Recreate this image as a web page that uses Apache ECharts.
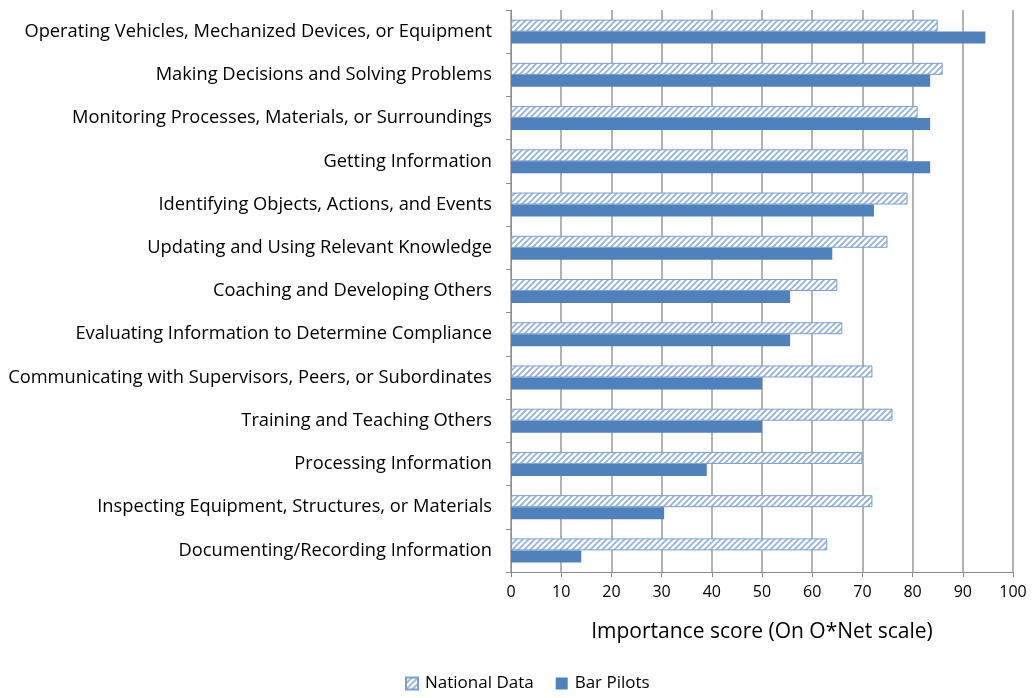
<!DOCTYPE html>
<html>
<head>
<meta charset="utf-8">
<script src="https://cdn.jsdelivr.net/npm/echarts@6/dist/echarts.min.js"></script>
<style>
  html, body { margin: 0; padding: 0; background: #fff; }
  #chart { width: 1032px; height: 698px; }
</style>
</head>
<body>
<div id="chart"></div>
<script>
const activities = [
  'Operating Vehicles, Mechanized Devices, or Equipment',
  'Making Decisions and Solving Problems',
  'Monitoring Processes, Materials, or Surroundings',
  'Getting Information',
  'Identifying Objects, Actions, and Events',
  'Updating and Using Relevant Knowledge',
  'Coaching and Developing Others',
  'Evaluating Information to Determine Compliance',
  'Communicating with Supervisors, Peers, or Subordinates',
  'Training and Teaching Others',
  'Processing Information',
  'Inspecting Equipment, Structures, or Materials',
  'Documenting/Recording Information'
];
const nationalData = [85, 86, 81, 79, 79, 75, 65, 66, 72, 76, 70, 72, 63];
const barPilots = [94.5, 83.5, 83.5, 83.5, 72.3, 64, 55.6, 55.6, 50, 50, 39, 30.5, 14];
const xTicks = [0, 10, 20, 30, 40, 50, 60, 70, 80, 90, 100];

// hatch pattern: light blue "/" stripes on white
function hatch() {
  const c = document.createElement('canvas');
  c.width = 6; c.height = 6;
  const g = c.getContext('2d');
  g.fillStyle = '#ffffff';
  g.fillRect(0, 0, 6, 6);
  g.strokeStyle = '#8fb0dc';
  g.lineWidth = 1.6;
  g.beginPath();
  g.moveTo(-1, 7); g.lineTo(7, -1);
  g.moveTo(-4, 4); g.lineTo(4, -4);
  g.moveTo(2, 10); g.lineTo(10, 2);
  g.stroke();
  return c;
}

const font = 'Open Sans';
const chart = echarts.init(document.getElementById('chart'));
chart.setOption({
  animation: false,
  textStyle: { fontFamily: font, color: '#000' },
  grid: { left: 511, right: 19, top: 10, bottom: 126 },
  legend: {
    bottom: 1,
    left: 400,
    icon: 'rect',
    itemWidth: 12,
    itemHeight: 12,
    itemGap: 22,
    textStyle: { fontFamily: font, fontSize: 17, color: '#000', padding: [0, 0, 0, 2] },
    data: ['National Data', 'Bar Pilots']
  },
  xAxis: {
    type: 'value',
    min: xTicks[0],
    max: xTicks[xTicks.length - 1],
    interval: 10,
    name: 'Importance score (On O*Net scale)',
    nameLocation: 'middle',
    nameGap: 50,
    nameTextStyle: { fontFamily: font, fontSize: 21, color: '#000' },
    axisLine: { show: true, lineStyle: { color: '#8c8c8c' } },
    axisTick: { show: true, length: 5, lineStyle: { color: '#8c8c8c' } },
    axisLabel: { fontSize: 16, color: '#000', margin: 12 },
    splitLine: { show: true, lineStyle: { color: '#9a9a9a', width: 1.5 } }
  },
  yAxis: {
    type: 'category',
    inverse: true,
    data: activities,
    axisLine: { lineStyle: { color: '#8c8c8c' } },
    axisTick: { show: true, length: 5, lineStyle: { color: '#8c8c8c' } },
    axisLabel: { fontSize: 18.3, color: '#000', margin: 19 }
  },
  series: [
    {
      name: 'National Data',
      type: 'bar',
      data: nationalData,
      barWidth: 12,
      barGap: '0%',
      itemStyle: {
        color: { image: hatch(), repeat: 'repeat' },
        borderColor: '#7b9fd2',
        borderWidth: 1
      }
    },
    {
      name: 'Bar Pilots',
      type: 'bar',
      data: barPilots,
      barWidth: 12,
      barGap: '0%',
      itemStyle: { color: '#4f81bd', borderColor: '#4f81bd', borderWidth: 0 }
    }
  ]
});
</script>
</body>
</html>
